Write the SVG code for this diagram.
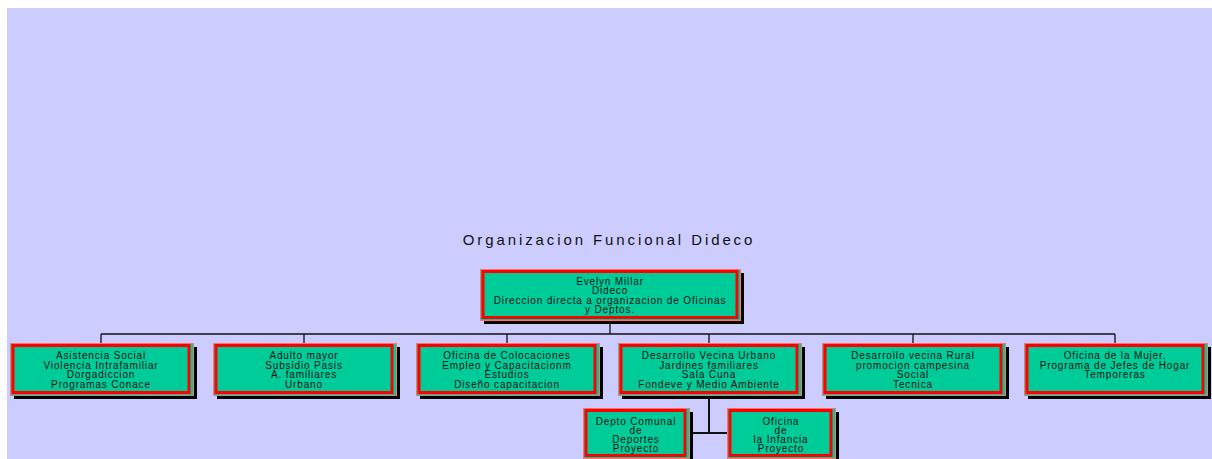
<svg xmlns="http://www.w3.org/2000/svg" width="1212" height="459" viewBox="0 0 1212 459">
<style>
.sh{fill:#000}
.bx{fill:#00CC99;stroke:#FF7070;stroke-width:1}
.fr{fill:none;stroke:#FF0000;stroke-width:3}
.t{font-family:"Liberation Sans",Arial,sans-serif;font-size:10px;letter-spacing:0.85px;fill:#111;text-anchor:middle}
.ttl{font-family:"Liberation Sans",Arial,sans-serif;font-size:15px;letter-spacing:2.9px;fill:#111;text-anchor:middle}
.c{stroke:#111;stroke-width:1.3;fill:none}
.c2{stroke:#111;stroke-width:2;fill:none}
</style>
<rect x="0" y="0" width="1212" height="459" fill="#FFFFFF"/>
<rect x="7" y="8" width="1205" height="451" fill="#CCCCFF"/>
<text class="ttl" x="609" y="245">Organizacion Funcional Dideco</text>
<g id="connectors">
<path class="c" d="M610 324V334M101 334H1115M101 334V343M304 334V343M507 334V343M709 334V343M913 334V343M1115 334V343"/>
<path class="c2" d="M709 398V433M689 433H727"/>
</g>
<g id="n0">
<rect class="sh" x="484" y="273" width="260" height="51"/>
<rect class="bx" x="480.5" y="269.5" width="260" height="51"/>
<rect class="fr" x="483" y="271.5" width="254" height="46"/>
<text class="t" x="610" y="284.5">Evelyn Millar</text>
<text class="t" x="610" y="294">Dideco</text>
<text class="t" x="610" y="303.5">Direccion directa a organizacion de Oficinas</text>
<text class="t" x="610" y="313">y Deptos.</text>
</g>
<g id="n1">
<rect class="sh" x="14" y="347" width="183" height="52"/>
<rect class="bx" x="10.5" y="343.5" width="183" height="52"/>
<rect class="fr" x="13" y="345.5" width="176" height="47"/>
<text class="t" x="101" y="359">Asistencia Social</text>
<text class="t" x="101" y="368.5">Violencia Intrafamiliar</text>
<text class="t" x="101" y="378">Dorgadiccion</text>
<text class="t" x="101" y="387.5">Programas Conace</text>
</g>
<g id="n2">
<rect class="sh" x="217" y="347" width="183" height="52"/>
<rect class="bx" x="213.5" y="343.5" width="183" height="52"/>
<rect class="fr" x="216" y="345.5" width="176" height="47"/>
<text class="t" x="304" y="359">Adulto mayor</text>
<text class="t" x="304" y="368.5">Subsidio Pasis</text>
<text class="t" x="304" y="378">A. familiares</text>
<text class="t" x="304" y="387.5">Urbano</text>
</g>
<g id="n3">
<rect class="sh" x="420" y="347" width="183" height="52"/>
<rect class="bx" x="416.5" y="343.5" width="183" height="52"/>
<rect class="fr" x="419" y="345.5" width="176" height="47"/>
<text class="t" x="507" y="359">Oficina de Colocaciones</text>
<text class="t" x="507" y="368.5">Empleo y Capacitacionm</text>
<text class="t" x="507" y="378">Estudios</text>
<text class="t" x="507" y="387.5">Diseño capacitacion</text>
</g>
<g id="n4">
<rect class="sh" x="622" y="347" width="183" height="52"/>
<rect class="bx" x="618.5" y="343.5" width="183" height="52"/>
<rect class="fr" x="621" y="345.5" width="176" height="47"/>
<text class="t" x="709" y="359">Desarrollo Vecina Urbano</text>
<text class="t" x="709" y="368.5">Jardines familiares</text>
<text class="t" x="709" y="378">Sala Cuna</text>
<text class="t" x="709" y="387.5">Fondeve y Medio  Ambiente</text>
</g>
<g id="n5">
<rect class="sh" x="826" y="347" width="183" height="52"/>
<rect class="bx" x="822.5" y="343.5" width="183" height="52"/>
<rect class="fr" x="825" y="345.5" width="176" height="47"/>
<text class="t" x="913" y="359">Desarrollo vecina Rural</text>
<text class="t" x="913" y="368.5">promocion campesina</text>
<text class="t" x="913" y="378">Social</text>
<text class="t" x="913" y="387.5">Tecnica</text>
</g>
<g id="n6">
<rect class="sh" x="1028" y="347" width="183" height="52"/>
<rect class="bx" x="1024.5" y="343.5" width="183" height="52"/>
<rect class="fr" x="1027" y="345.5" width="176" height="47"/>
<text class="t" x="1115" y="359">Oficina de  la Mujer.</text>
<text class="t" x="1115" y="368.5">Programa  de Jefes de Hogar</text>
<text class="t" x="1115" y="378">Temporeras</text>
</g>
<g id="n7">
<rect class="sh" x="587" y="412" width="106" height="50"/>
<rect class="bx" x="583.5" y="408.5" width="106" height="50"/>
<rect class="fr" x="586" y="410.5" width="99" height="45"/>
<text class="t" x="636" y="424.5">Depto Comunal</text>
<text class="t" x="636" y="433.5">de</text>
<text class="t" x="636" y="442.5">Deportes</text>
<text class="t" x="636" y="451.5">Proyecto</text>
</g>
<g id="n8">
<rect class="sh" x="731" y="412" width="108" height="50"/>
<rect class="bx" x="727.5" y="408.5" width="108" height="50"/>
<rect class="fr" x="730" y="410.5" width="101" height="45"/>
<text class="t" x="781" y="424.5">Oficina</text>
<text class="t" x="781" y="433.5">de</text>
<text class="t" x="781" y="442.5">la Infancia</text>
<text class="t" x="781" y="451.5">Proyecto</text>
</g>
</svg>
